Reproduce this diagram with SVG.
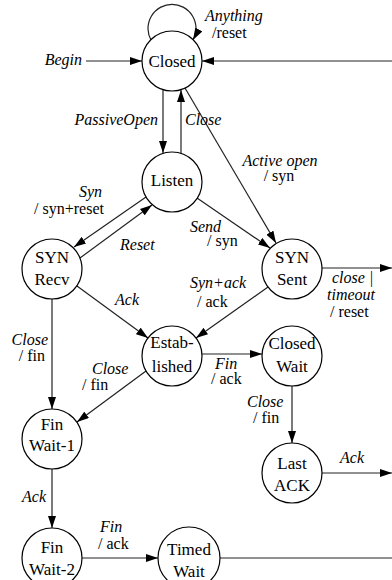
<svg xmlns="http://www.w3.org/2000/svg" width="392" height="580" viewBox="0 0 392 580">
<style>
.n{fill:#fff;stroke:#000;stroke-width:1.2}
text{font-family:'Liberation Serif','Times New Roman','DejaVu Serif',serif;fill:#000}
.t{font-size:17px;text-anchor:middle}
.l{font-size:16px}
.i{font-style:italic}
.e{fill:none;stroke:#222;stroke-width:1.2}
.a{marker-end:url(#ah)}
</style>
<defs>
<marker id="ah" viewBox="0 0 12 8" refX="12" refY="4" markerWidth="12" markerHeight="8" orient="auto" markerUnits="userSpaceOnUse"><path d="M0,0 L12,4 L0,8 z" fill="#000"/></marker>
</defs>
<rect width="392" height="580" fill="#fff"/>
<g id="connectors">
<line class="e a" x1="86" y1="61" x2="142" y2="61"/>
<line class="e a" x1="392" y1="61" x2="202" y2="61"/>
<path class="e a" d="M151,40 A24,24 0 1 1 193,40"/>
<line class="e a" x1="163" y1="90" x2="163" y2="153"/>
<line class="e a" x1="181" y1="153" x2="181" y2="90"/>
<line class="e a" x1="185" y1="88" x2="276" y2="243"/>
<line class="e a" x1="146" y1="197" x2="74" y2="247"/>
<line class="e a" x1="80" y1="258" x2="152" y2="205"/>
<line class="e a" x1="197" y1="198" x2="270" y2="248"/>
<line class="e a" x1="77" y1="286" x2="148" y2="338"/>
<line class="e a" x1="268" y1="287" x2="196" y2="338"/>
<line class="e a" x1="52" y1="299" x2="52" y2="409"/>
<line class="e a" x1="146" y1="371" x2="77" y2="422"/>
<line class="e a" x1="202" y1="354" x2="262" y2="354"/>
<line class="e a" x1="292" y1="386" x2="292" y2="443"/>
<line class="e a" x1="322" y1="473" x2="392" y2="473"/>
<line class="e a" x1="322" y1="268" x2="392" y2="268"/>
<line class="e a" x1="52" y1="469" x2="52" y2="528"/>
<line class="e a" x1="82" y1="558" x2="158" y2="558"/>
<line class="e" x1="220" y1="558" x2="392" y2="558"/>
</g>
<g id="labels">
<text class="l i" x="82" y="65" text-anchor="end">Begin</text>
<text class="l i" x="205" y="21">Anything</text>
<text class="l" x="212" y="38">/reset</text>
<text class="l i" x="158" y="125" text-anchor="end">PassiveOpen</text>
<text class="l i" x="185" y="125">Close</text>
<text class="l i" x="280" y="166" text-anchor="middle">Active open</text>
<text class="l" x="279" y="181" text-anchor="middle">/ syn</text>
<text class="l i" x="102" y="197" text-anchor="end">Syn</text>
<text class="l" x="104" y="214" text-anchor="end">/ syn+reset</text>
<text class="l i" x="120" y="250">Reset</text>
<text class="l i" x="190" y="232">Send</text>
<text class="l" x="207" y="246">/ syn</text>
<text class="l i" x="190" y="288">Syn+ack</text>
<text class="l" x="197" y="307">/ ack</text>
<text class="l i" x="332" y="283">close |</text>
<text class="l i" x="327" y="300">timeout</text>
<text class="l" x="330" y="317">/ reset</text>
<text class="l i" x="115" y="305">Ack</text>
<text class="l i" x="48" y="345" text-anchor="end">Close</text>
<text class="l" x="45" y="361" text-anchor="end">/ fin</text>
<text class="l i" x="92" y="374">Close</text>
<text class="l" x="82" y="390">/ fin</text>
<text class="l i" x="215" y="369">Fin</text>
<text class="l" x="211" y="384">/ ack</text>
<text class="l i" x="247" y="407">Close</text>
<text class="l" x="253" y="423">/ fin</text>
<text class="l i" x="340" y="463">Ack</text>
<text class="l i" x="22" y="502">Ack</text>
<text class="l i" x="100" y="532">Fin</text>
<text class="l" x="98" y="549">/ ack</text>
</g>
<g id="closed"><circle class="n" cx="172" cy="61" r="30"/><text class="t" x="172" y="67">Closed</text></g>
<g id="listen"><circle class="n" cx="172" cy="182" r="30"/><text class="t" x="172" y="186">Listen</text></g>
<g id="syn-recv"><circle class="n" cx="52" cy="269" r="30"/><text class="t" x="52" y="263">SYN</text><text class="t" x="52" y="285">Recv</text></g>
<g id="syn-sent"><circle class="n" cx="292" cy="269" r="30"/><text class="t" x="292" y="263">SYN</text><text class="t" x="292" y="285">Sent</text></g>
<g id="established"><circle class="n" cx="172" cy="356" r="30"/><text class="t" x="172" y="348">Estab-</text><text class="t" x="172" y="372">lished</text></g>
<g id="closed-wait"><circle class="n" cx="292" cy="356" r="30"/><text class="t" x="292" y="349">Closed</text><text class="t" x="292" y="372">Wait</text></g>
<g id="fin-wait-1"><circle class="n" cx="52" cy="439" r="30"/><text class="t" x="52" y="430">Fin</text><text class="t" x="52" y="451">Wait-1</text></g>
<g id="last-ack"><circle class="n" cx="292" cy="473" r="30"/><text class="t" x="292" y="469">Last</text><text class="t" x="292" y="491">ACK</text></g>
<g id="fin-wait-2"><circle class="n" cx="52" cy="558" r="30"/><text class="t" x="52" y="553">Fin</text><text class="t" x="52" y="575">Wait-2</text></g>
<g id="timed-wait"><circle class="n" cx="189" cy="558" r="31"/><text class="t" x="189" y="555">Timed</text><text class="t" x="189" y="577">Wait</text></g>
</svg>
